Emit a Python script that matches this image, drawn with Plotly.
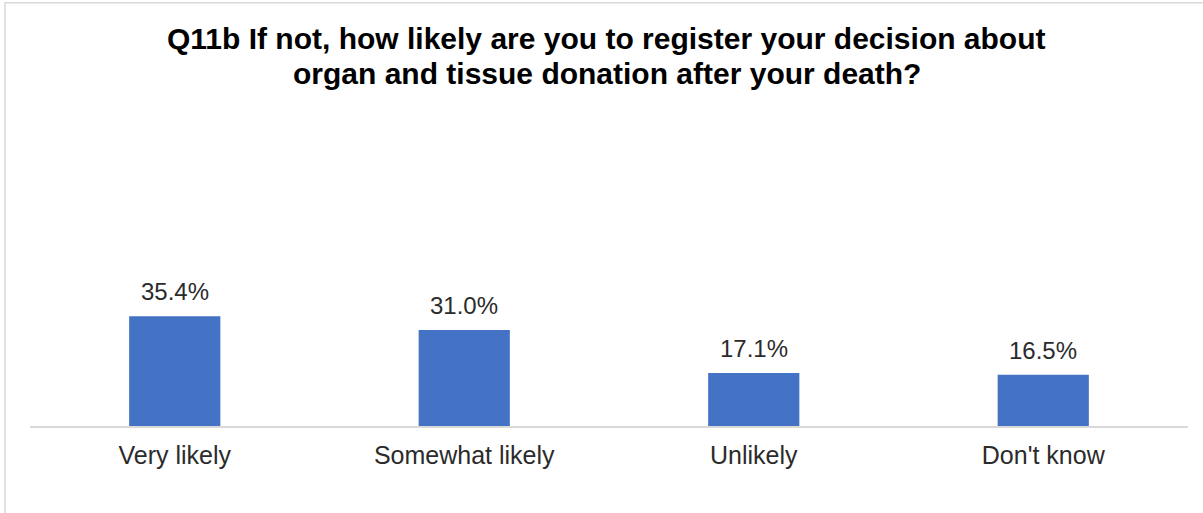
import plotly.graph_objects as go

categories = ["Very likely", "Somewhat likely", "Unlikely", "Don't know"]
shares = [35.4, 31.0, 17.1, 16.5]
title_lines = [
    "Q11b If not, how likely are you to register your decision about",
    "organ and tissue donation after your death?",
]

bar_color = "#4472C4"
text_color = "#2b2b2b"
font_family = "Liberation Sans, Arial, sans-serif"

fig = go.Figure(
    go.Bar(
        x=categories,
        y=shares,
        marker=dict(color=bar_color, line=dict(width=0)),
        width=0.315,
        hoverinfo="skip",
    )
)

# value labels above each bar
for cat, val in zip(categories, shares):
    fig.add_annotation(
        x=cat, y=val, xref="x", yref="y",
        text=f"{val:.1f}%", showarrow=False,
        yanchor="bottom", yshift=9,
        font=dict(family=font_family, size=24, color=text_color),
    )

# two-line bold title
for line, ypos in zip(title_lines, [1.2516, 1.1387]):
    fig.add_annotation(
        x=0.498, y=ypos, xref="paper", yref="paper",
        xanchor="center", yanchor="middle",
        text=f"<b>{line}</b>", showarrow=False,
        font=dict(family=font_family, size=30, color="#000000"),
    )

fig.update_layout(
    width=1203, height=513,
    margin=dict(l=30, r=15, t=116, b=87),
    paper_bgcolor="white", plot_bgcolor="white",
    showlegend=False,
    xaxis=dict(
        showline=True, linecolor="#d9d9d9", linewidth=1.5,
        showgrid=False, ticks="", ticklabelstandoff=6,
        tickfont=dict(family=font_family, size=25, color=text_color),
    ),
    yaxis=dict(range=[0, 100], visible=False),
    shapes=[
        dict(type="rect", xref="paper", yref="paper",
             x0=-0.0216, x1=1.05, y0=-0.5, y1=1.365,
             line=dict(color="#d9d9d9", width=1.5), fillcolor="rgba(0,0,0,0)",
             layer="below"),
    ],
)

fig.write_html("out.html")
